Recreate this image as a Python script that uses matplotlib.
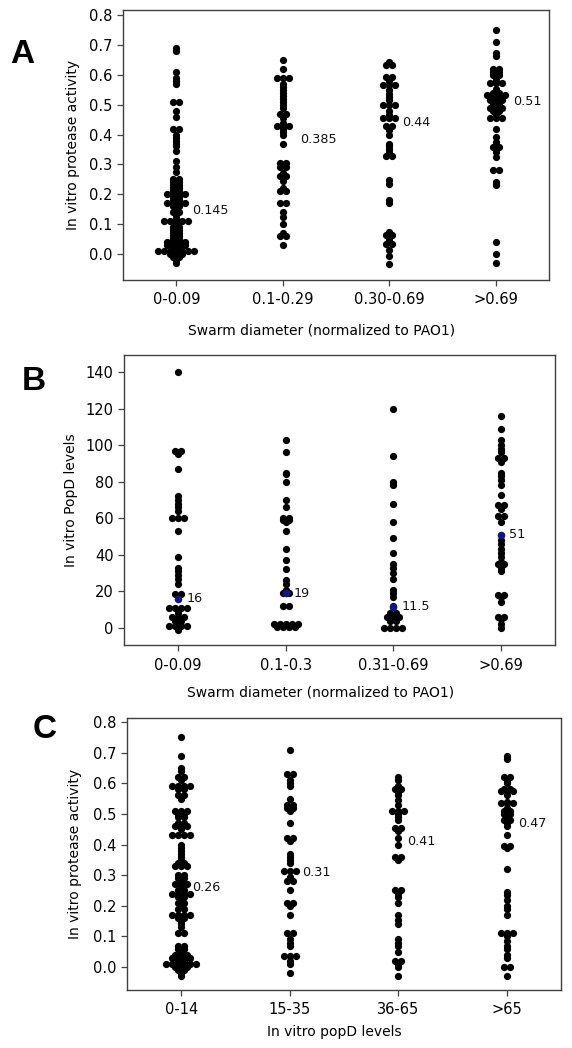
import numpy as np
import matplotlib
matplotlib.use("Agg")
import matplotlib.pyplot as plt

plt.rcParams['font.family'] = ['DejaVu Sans']

# ---------------- data ----------------
a_categories = ['0-0.09', '0.1-0.29', '0.30-0.69', '>0.69']
a_g0 = [0.69, 0.68, 0.61, 0.59, 0.58, 0.57, 0.51, 0.51, 0.48, 0.46, 0.42, 0.42, 0.40, 0.39, 0.38,
        0.37, 0.36, 0.345, 0.31, 0.29, 0.275, 0.25, 0.25, 0.24, 0.24, 0.23, 0.23, 0.22, 0.22, 0.21,
        0.21, 0.20, 0.20, 0.20, 0.20, 0.19, 0.19, 0.18, 0.18, 0.17, 0.17, 0.17, 0.17, 0.16, 0.16,
        0.15, 0.14, 0.14, 0.13, 0.12, 0.11, 0.11, 0.11, 0.11, 0.11, 0.10, 0.09, 0.09, 0.08, 0.08,
        0.07, 0.07, 0.06, 0.06, 0.05, 0.05, 0.04, 0.04, 0.04, 0.04, 0.03, 0.03, 0.03, 0.03, 0.02,
        0.02, 0.01, 0.01, 0.01, 0.01, 0.01, 0.01, 0.01, 0.00, 0.00, 0.00, -0.01, -0.01, -0.02, -0.03]
a_g1 = [0.65, 0.62, 0.59, 0.59, 0.59, 0.57, 0.56, 0.55, 0.54, 0.53, 0.52, 0.51, 0.50, 0.49, 0.47,
        0.47, 0.455, 0.44, 0.43, 0.43, 0.43, 0.42, 0.41, 0.40, 0.37, 0.305, 0.305, 0.29, 0.29, 0.27,
        0.26, 0.26, 0.245, 0.22, 0.21, 0.21, 0.17, 0.17, 0.14, 0.125, 0.10, 0.07, 0.06, 0.06, 0.03]
a_g2 = [0.643, 0.632, 0.632, 0.593, 0.593, 0.58, 0.565, 0.565, 0.565, 0.548, 0.537, 0.525, 0.515,
        0.498, 0.498, 0.498, 0.48, 0.465, 0.454, 0.454, 0.454, 0.43, 0.43, 0.415, 0.40, 0.37, 0.36,
        0.35, 0.34, 0.328, 0.328, 0.247, 0.236, 0.18, 0.17, 0.075, 0.063, 0.063, 0.047, 0.033, 0.033,
        0.015, -0.006, -0.034]
a_g3 = [0.751, 0.71, 0.673, 0.662, 0.62, 0.62, 0.61, 0.61, 0.60, 0.60, 0.59, 0.58, 0.571, 0.571,
        0.571, 0.554, 0.54, 0.54, 0.532, 0.532, 0.532, 0.532, 0.515, 0.515, 0.515, 0.50, 0.50, 0.49,
        0.49, 0.49, 0.48, 0.48, 0.47, 0.454, 0.454, 0.454, 0.42, 0.392, 0.376, 0.359, 0.359, 0.342,
        0.326, 0.281, 0.281, 0.242, 0.231, 0.04, 0.0, -0.03]
a_medians = [0.145, 0.385, 0.44, 0.51]

b_categories = ['0-0.09', '0.1-0.3', '0.31-0.69', '>0.69']
b_g0 = [140, 97, 97, 96, 95, 87, 72, 70, 68, 66, 64, 60, 60, 60, 53, 39, 33, 31, 29, 27, 24, 18.5,
        18.5, 11, 11, 11, 11, 10, 8, 6, 6, 6, 5, 4, 4, 3, 1, 1, 1, 1, 0, -1]
b_g1 = [103, 96, 85, 84, 80, 70, 66, 60, 60, 59, 59, 58, 53, 43, 37, 32, 26, 24, 21, 19, 19, 12, 12,
        2, 2, 2, 2, 2, 0.5, 0.5, 0.5, 0.5]
b_g2 = [120, 94, 80, 78, 68, 58, 49, 41, 35, 33, 30, 27, 21, 19, 17, 12, 8, 8, 6, 6, 6, 4, 4,
        0, 0, 0, 0]
b_g3 = [116, 109, 103, 100, 98, 96, 93, 93, 92, 91, 85, 83, 81, 78, 73, 67, 67, 65, 61, 61, 58, 48,
        46, 43, 41, 39, 36, 35, 35, 33, 31, 18, 18, 17, 14, 6, 6, 5, 2, 0]
b_medians = [16, 19, 11.5, 51]

c_categories = ['0-14', '15-35', '36-65', '>65']
c_g0 = [0.75, 0.69, 0.65, 0.64, 0.62, 0.62, 0.61, 0.59, 0.59, 0.59, 0.59, 0.58, 0.58, 0.56, 0.56,
        0.55, 0.51, 0.51, 0.51, 0.50, 0.50, 0.49, 0.49, 0.47, 0.47, 0.46, 0.46, 0.46, 0.45, 0.43,
        0.43, 0.43, 0.43, 0.40, 0.39, 0.38, 0.37, 0.36, 0.35, 0.34, 0.34, 0.33, 0.33, 0.33, 0.30,
        0.30, 0.29, 0.29, 0.28, 0.27, 0.27, 0.27, 0.26, 0.25, 0.25, 0.24, 0.24, 0.24, 0.24, 0.23,
        0.23, 0.22, 0.21, 0.21, 0.20, 0.19, 0.19, 0.17, 0.17, 0.17, 0.17, 0.16, 0.16, 0.15, 0.14,
        0.13, 0.11, 0.11, 0.07, 0.07, 0.06, 0.06, 0.05, 0.04, 0.04, 0.04, 0.03, 0.03, 0.03, 0.03,
        0.02, 0.02, 0.01, 0.01, 0.01, 0.01, 0.01, 0.01, 0.00, 0.00, 0.00, -0.01, -0.01, -0.02, -0.03]
c_g1 = [0.71, 0.63, 0.63, 0.61, 0.60, 0.59, 0.55, 0.53, 0.53, 0.52, 0.52, 0.51, 0.47, 0.42, 0.42,
        0.41, 0.37, 0.36, 0.35, 0.34, 0.315, 0.315, 0.315, 0.295, 0.28, 0.28, 0.25, 0.21, 0.21, 0.20,
        0.17, 0.11, 0.11, 0.09, 0.08, 0.07, 0.035, 0.035, 0.035, 0.02, 0.01, -0.02]
c_g2 = [0.62, 0.61, 0.59, 0.58, 0.58, 0.57, 0.56, 0.545, 0.53, 0.51, 0.51, 0.51, 0.50, 0.49, 0.48,
        0.455, 0.455, 0.445, 0.42, 0.40, 0.36, 0.36, 0.35, 0.25, 0.25, 0.24, 0.23, 0.21, 0.17, 0.155,
        0.14, 0.09, 0.08, 0.07, 0.05, 0.02, 0.02, 0.01, 0.0, -0.03]
c_g3 = [0.69, 0.68, 0.62, 0.62, 0.61, 0.60, 0.58, 0.58, 0.575, 0.575, 0.575, 0.56, 0.54, 0.535,
        0.535, 0.535, 0.52, 0.51, 0.51, 0.50, 0.50, 0.49, 0.48, 0.48, 0.47, 0.46, 0.43, 0.395, 0.395,
        0.39, 0.32, 0.245, 0.235, 0.22, 0.20, 0.19, 0.17, 0.11, 0.11, 0.11, 0.10, 0.085, 0.07, 0.06,
        0.04, 0.03, 0.00, 0.00, -0.03]
c_medians = [0.26, 0.31, 0.41, 0.47]

# ---------------- drawing ----------------
W, H = 572, 1048
fig = plt.figure(figsize=(W / 100, H / 100), dpi=100)


def rect_px(left, top, right, bottom):
    return [left / W, 1 - bottom / H, (right - left) / W, (bottom - top) / H]


def row_offsets(values, spacing):
    vals = np.round(np.asarray(values, float), 4)
    offs = np.zeros(len(vals))
    for k in np.unique(vals):
        idx = np.where(vals == k)[0]
        n = len(idx)
        offs[idx] = (np.arange(n) - (n - 1) / 2) * spacing
    return offs


def panel(box, cats, groups, medians, ylim, yticks, yfmt, ylabel, xlabel,
          letter, letter_px, label_dx_px, xlabel_x, xlabel_gap, ylabel_gap,
          blue=False):
    ax = fig.add_axes(rect_px(*box))
    w_px = box[2] - box[0]
    h_px = box[3] - box[1]
    unit_px = w_px / 4.0
    sp = 6.0 / unit_px
    for i, vals in enumerate(groups):
        offs = row_offsets(vals, sp)
        ax.scatter(i + offs, vals, s=27, c='black', linewidths=0, zorder=3)
    for i, m in enumerate(medians):
        if blue:
            ax.scatter([i], [m], s=30, c='#14148a', linewidths=0, zorder=4)
        ax.text(i + label_dx_px[i] / unit_px, m, f"{m:g}", fontsize=9.2,
                va='center', ha='left', color='#111111', zorder=5)
    ax.set_xlim(-0.5, 3.5)
    ax.set_ylim(*ylim)
    ax.set_xticks(range(len(cats)))
    ax.set_xticklabels(cats)
    ax.set_yticks(yticks)
    ax.set_yticklabels([yfmt.format(t) for t in yticks])
    ax.tick_params(axis='both', labelsize=10.5, length=4, width=0.9,
                   color='#444444', pad=3.5)
    ax.tick_params(axis='x', pad=5)
    for s in ax.spines.values():
        s.set_color('#404040')
        s.set_linewidth(1.0)
    ax.set_xlabel(xlabel, fontsize=10)
    ax.set_ylabel(ylabel, fontsize=10)
    ax.xaxis.set_label_coords(xlabel_x, -xlabel_gap / h_px)
    ax.yaxis.set_label_coords(-ylabel_gap / w_px, 0.5)
    fig.text(letter_px[0] / W, 1 - letter_px[1] / H, letter, fontsize=24,
             fontweight='bold', family='Liberation Sans', va='baseline', ha='left')
    return ax


panel((123, 10, 549, 280), a_categories, [a_g0, a_g1, a_g2, a_g3], a_medians,
      (-0.087, 0.817), np.round(np.arange(0, 0.81, 0.1), 1), "{:.1f}",
      'In vitro protease activity', 'Swarm diameter (normalized to PAO1)',
      'A', (10, 63), [16, 17, 13, 17], 0.465, 44, 43)

panel((124, 355, 555, 645), b_categories, [b_g0, b_g1, b_g2, b_g3], b_medians,
      (-9.3, 149.3), np.arange(0, 141, 20), "{:d}",
      'In vitro PopD levels', 'Swarm diameter (normalized to PAO1)',
      'B', (22, 390), [9, 8, 8, 8], 0.455, 41, 46, blue=True)

panel((127, 718, 561, 990), c_categories, [c_g0, c_g1, c_g2, c_g3], c_medians,
      (-0.075, 0.813), np.round(np.arange(0, 0.81, 0.1), 1), "{:.1f}",
      'In vitro protease activity', 'In vitro popD levels',
      'C', (33, 738), [11, 12, 9, 11], 0.477, 35, 45)

fig.savefig('out.png', dpi=100)
